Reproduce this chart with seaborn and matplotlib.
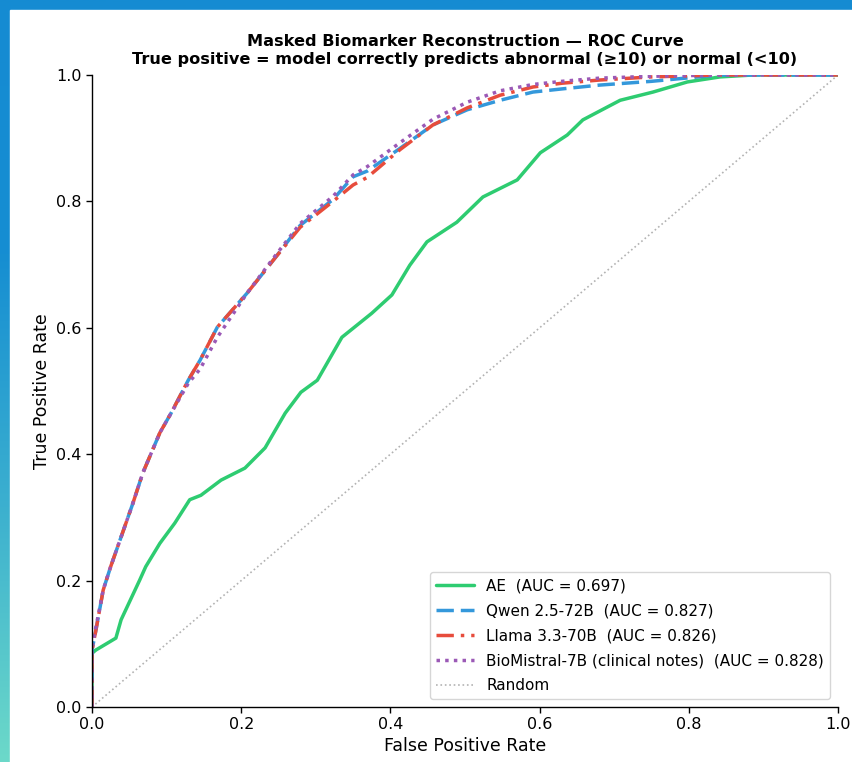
import numpy as np
import pandas as pd
import matplotlib
matplotlib.use("Agg")
import matplotlib.pyplot as plt
from matplotlib.colors import LinearSegmentedColormap
from matplotlib.patches import Rectangle
import seaborn as sns

# ==========================================
# ROC points
# ==========================================
fpr_ae = [0, 0, 0.005, 0.032, 0.039, 0.064, 0.072, 0.091, 0.111, 0.131, 0.146, 0.173,
          0.205, 0.232, 0.259, 0.28, 0.302, 0.335, 0.375, 0.402, 0.426, 0.449, 0.489,
          0.524, 0.570, 0.601, 0.637, 0.658, 0.708, 0.752, 0.798, 0.842, 0.886, 1.0]
tpr_ae = [0, 0.085, 0.09, 0.109, 0.138, 0.201, 0.222, 0.259, 0.291, 0.328, 0.335, 0.359,
          0.378, 0.41, 0.465, 0.498, 0.517, 0.585, 0.623, 0.652, 0.699, 0.736, 0.767,
          0.807, 0.834, 0.877, 0.905, 0.929, 0.96, 0.973, 0.989, 0.997, 1.0, 1.0]

fpr_llm = [0, 0, 0.005, 0.015, 0.025, 0.039, 0.055, 0.068, 0.091, 0.106, 0.129, 0.145,
           0.168, 0.208, 0.243, 0.279, 0.323, 0.35, 0.369, 0.413, 0.457, 0.503, 0.547,
           0.591, 0.63, 0.68, 0.75, 0.84, 1.0]
tpr_qwen = [0, 0.09, 0.12, 0.185, 0.222, 0.269, 0.323, 0.37, 0.434, 0.465, 0.517, 0.549,
            0.601, 0.655, 0.707, 0.762, 0.803, 0.839, 0.848, 0.884, 0.921, 0.945, 0.96,
            0.973, 0.978, 0.984, 0.99, 1.0, 1.0]
tpr_llama = [0, 0.09, 0.12, 0.185, 0.222, 0.269, 0.323, 0.37, 0.434, 0.465, 0.517, 0.549,
             0.601, 0.655, 0.707, 0.759, 0.8, 0.826, 0.838, 0.882, 0.921, 0.948, 0.968,
             0.981, 0.987, 0.992, 0.997, 1.0, 1.0]
tpr_bio = [0, 0.095, 0.125, 0.185, 0.222, 0.269, 0.323, 0.37, 0.434, 0.465, 0.512, 0.535,
           0.585, 0.655, 0.71, 0.765, 0.808, 0.842, 0.855, 0.893, 0.93, 0.957, 0.975,
           0.985, 0.99, 0.995, 0.998, 1.0, 1.0]

labels = ["AE  (AUC = 0.697)", "Qwen 2.5-72B  (AUC = 0.827)", "Llama 3.3-70B  (AUC = 0.826)",
          "BioMistral-7B (clinical notes)  (AUC = 0.828)"]
colors = ["#2ecc71", "#3498db", "#e74c3c", "#9b59b6"]
styles = ["-", (0, (5, 2)), (0, (5, 2, 1, 2)), (0, (1, 1.5))]

curves = [(fpr_ae, tpr_ae), (fpr_llm, tpr_qwen), (fpr_llm, tpr_llama), (fpr_llm, tpr_bio)]

# ==========================================
# Figure + gradient frame
# ==========================================
sns.set_style("white")
plt.rcParams['font.family'] = ['DejaVu Sans']
plt.rcParams.update({"text.color": "black", "axes.labelcolor": "black",
                     "xtick.color": "black", "ytick.color": "black"})

fig = plt.figure(figsize=(8.53, 7.62), dpi=100)
bg = fig.add_axes([0, 0, 1, 1], zorder=-10)
cmap = LinearSegmentedColormap.from_list("frame", ["#158bd2", "#168ed2", "#3cb0cf", "#6cd9c9"])
grad = np.linspace(0, 1, 256).reshape(-1, 1)
bg.imshow(grad, aspect="auto", cmap=cmap, extent=[0, 1, 0, 1], origin="upper")
bg.add_patch(Rectangle((10 / 853, 0), 1, 1 - 10 / 762, color="white"))
bg.set_xlim(0, 1)
bg.set_ylim(0, 1)
bg.axis("off")

ax = fig.add_axes([92 / 853, 55 / 762, 746 / 853, 632 / 762])

for (x, y), lab, c, ls in zip(curves, labels, colors, styles):
    df = pd.DataFrame({"fpr": x, "tpr": y})
    sns.lineplot(data=df, x="fpr", y="tpr", ax=ax, color=c, linestyle=ls, linewidth=2.5,
                 label=lab, sort=False, estimator=None)

ax.plot([0, 1], [0, 1], linestyle=":", color="gray", alpha=0.6, linewidth=1.2, label="Random")

ax.set_xlim(0, 1)
ax.set_ylim(0, 1)
ax.set_xticks(np.arange(0, 1.01, 0.2))
ax.set_yticks(np.arange(0, 1.01, 0.2))
ax.tick_params(axis="both", labelsize=11.5, length=4, width=1, direction="out", left=True, bottom=True)
ax.set_xlabel("False Positive Rate", fontsize=12.5, labelpad=3)
ax.set_ylabel("True Positive Rate", fontsize=12.5)
ax.set_title("Masked Biomarker Reconstruction — ROC Curve\n"
             "True positive = model correctly predicts abnormal (≥10) or normal (<10)",
             fontsize=11.6, fontweight="bold", pad=8)
sns.despine(ax=ax)
for sp in ["left", "bottom"]:
    ax.spines[sp].set_color("black")
    ax.spines[sp].set_linewidth(1)
ax.set_facecolor("none")
ax.legend(loc="lower right", fontsize=11, frameon=True, handlelength=2.5, labelspacing=0.65)

fig.savefig("out.png", dpi=100)
